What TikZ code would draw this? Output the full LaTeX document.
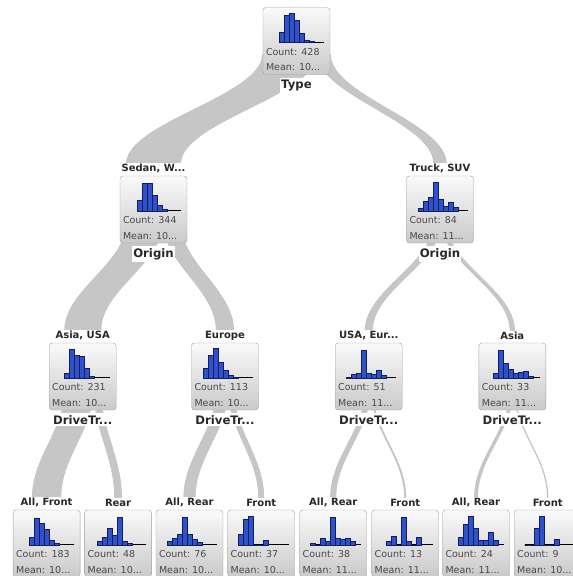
\documentclass[tikz,border=0pt]{standalone}
\usepackage{fontspec}
\setmainfont{DejaVu Sans}
\usetikzlibrary{calc,backgrounds}

\definecolor{barfill}{RGB}{48,82,200}
\definecolor{barline}{RGB}{18,28,95}
\definecolor{flowgray}{RGB}{198,198,198}
\definecolor{labtext}{RGB}{40,40,40}
\definecolor{stattext}{RGB}{72,72,72}

\tikzset{
  tbox/.style={rectangle, rounded corners=3pt, draw=gray!75, top color=gray!4,
    bottom color=gray!42, minimum width=67pt, minimum height=67pt, inner sep=0pt},
  toplab/.style={anchor=south, fill=white, inner sep=1pt, yshift=1.5pt,
    text=labtext, font=\fontsize{10}{10}\bfseries},
  botlab/.style={anchor=north, fill=white, inner xsep=1pt, inner ysep=2pt,
    yshift=-3pt, text=labtext, font=\fontsize{11.7}{12}\bfseries},
  stat/.style={anchor=base west, inner sep=0pt, text=stattext,
    font=\fontsize{9.5}{10}\selectfont},
  bar/.style={draw=barline, fill=barfill, line width=0.5pt},
  baseln/.style={draw=black, line width=0.7pt},
  flowband/.style={fill=flowgray},
}

% histogram in a box: node, offset of first bin, bar heights
\newcommand\histo[3]{%
  \draw[baseln] ($(#1.north west)+(#2,35)$) -- ($(#1.north east)+(-6,35)$);
  \foreach \h [count=\k from 0] in {#3}
    \draw[bar] ($(#1.north west)+(#2+5*\k,35)$) rectangle +(5,-\h);
}
% the two lines of numbers under the histogram
\newcommand\stats[3]{%
  \node[stat] (#1-cnt) at ($(#1.north west)+(3,48)$) {Count: #2};
  \node[stat] (#1-mean) at ($(#1.north west)+(3,63.5)$) {Mean: #3};
}
% grey band: parent, start offset under parent, width, child
\newcommand\flow[4]{%
  \path (#1.center) ++(#2,13) coordinate (fa) ++(#3,0) coordinate (fb);
  \path (#4.north) ++(-#3/2,-12) coordinate (ta) ++(#3,0) coordinate (tb);
  \path ($(fa)!.38!(ta)$) coordinate (f1) ($(fa)!.62!(ta)$) coordinate (f2);
  \fill[flowband] (fa) .. controls (fa |- f1) and (ta |- f2) .. (ta)
    -- (tb) .. controls (tb |- f2) and (fb |- f1) .. (fb) -- cycle;
}

\begin{document}
\begin{tikzpicture}[x=1pt,y=-1pt]
\useasboundingbox (0,0) rectangle (573,576);
\clip (0,0) rectangle (573,576);

% Root of the tree
\node[tbox] (type) at (296.5,41) {};
\node[botlab] (type-lab) at (type.south) {Type};
\histo{type}{16}{10,27,29,22,9,2,1}
\stats{type}{428}{10...}

% Second level, split on Type
\node[tbox] (sedan) at (153.5,209.5) {};
\node[toplab] (sedan-top) at (sedan.north) {Sedan, W...};
\node[botlab] (sedan-lab) at (sedan.south) {Origin};
\histo{sedan}{17}{10.7,28,28,16,5.7,1.3}
\stats{sedan}{344}{10...}

\node[tbox] (truck) at (440,209.5) {};
\node[toplab] (truck-top) at (truck.north) {Truck, SUV};
\node[botlab] (truck-lab) at (truck.south) {Origin};
\histo{truck}{12}{3,10,14,29,12,5,9,4}
\stats{truck}{84}{11...}

% Third level, split on Origin
\node[tbox] (asiausa) at (82.7,376.5) {};
\node[toplab] (asiausa-top) at (asiausa.north) {Asia, USA};
\node[botlab] (asiausa-lab) at (asiausa.south) {DriveTr...};
\histo{asiausa}{15}{4.3,28.7,22.7,22,9.3,2}
\stats{asiausa}{231}{10...}

\node[tbox] (europe) at (225,376.5) {};
\node[toplab] (europe-top) at (europe.north) {Europe};
\node[botlab] (europe-lab) at (europe.south) {DriveTr...};
\histo{europe}{12}{10,22.7,29.3,16,7.7,2.7,1}
\stats{europe}{113}{10...}

\node[tbox] (usaeur) at (368.7,376.5) {};
\node[toplab] (usaeur-top) at (usaeur.north) {USA, Eur...};
\node[botlab] (usaeur-lab) at (usaeur.south) {DriveTr...};
\histo{usaeur}{11}{1,4,5,28,5,4,8,3}
\stats{usaeur}{51}{11...}

\node[tbox] (asia) at (512.3,376.5) {};
\node[toplab] (asia-top) at (asia.north) {Asia};
\node[botlab] (asia-lab) at (asia.south) {DriveTr...};
\histo{asia}{15}{4.3,27.7,14.3,8.3,4.3,6,7,2}
\stats{asia}{33}{11...}

% Leaves, split on DriveTrain
\node[tbox] (af) at (46.6,543.5) {};
\node[toplab] (af-top) at (af.north) {All, Front};
\histo{af}{16}{7.7,26.7,22,16,4.3,2}
\stats{af}{183}{10...}

\node[tbox] (ar) at (118.1,543.5) {};
\node[toplab] (ar-top) at (ar.north) {Rear};
\histo{ar}{12.4}{3.3,7.7,16.7,10,27.7,3.3,2}
\stats{ar}{48}{10...}

\node[tbox] (er) at (189.5,543.5) {};
\node[toplab] (er-top) at (er.north) {All, Rear};
\histo{er}{11.3}{3.3,6.7,11,27.7,11,6,2.7}
\stats{er}{76}{10...}

\node[tbox] (ef) at (261.2,543.5) {};
\node[toplab] (ef-top) at (ef.north) {Front};
\histo{ef}{11}{11,26,28.3,0,0,5}
\stats{ef}{37}{10...}

\node[tbox] (ur) at (333.2,543.5) {};
\node[toplab] (ur-top) at (ur.north) {All, Rear};
\histo{ur}{10.7}{1.3,0,7,4,28,7,6,7,4}
\stats{ur}{38}{11...}

\node[tbox] (uf) at (405.2,543.5) {};
\node[toplab] (uf-top) at (uf.north) {Front};
\histo{uf}{15}{4,9,0,28,4,0,8}
\stats{uf}{13}{11...}

\node[tbox] (sr) at (476,543.5) {};
\node[toplab] (sr-top) at (sr.north) {All, Rear};
\histo{sr}{15.6}{7.7,21,28.3,16.7,5,5,12.7,5}
\stats{sr}{24}{11...}

\node[tbox] (sf) at (547.7,543.5) {};
\node[toplab] (sf-top) at (sf.north) {Front};
\histo{sf}{10.7}{0,0,16.7,28.3,0,0,5.3}
\stats{sf}{9}{10...}

% Grey bands, width follows the count
\begin{scope}[on background layer]
\flow{type}{-34.25}{55}{sedan}
\flow{type}{20.8}{13.4}{truck}
\flow{sedan}{-27.5}{37}{asiausa}
\flow{sedan}{9.5}{18.1}{europe}
\flow{truck}{-6.75}{8.2}{usaeur}
\flow{truck}{1.45}{5.3}{asia}
\flow{asiausa}{-18.5}{29.3}{af}
\flow{asiausa}{10.8}{7.7}{ar}
\flow{europe}{-9.05}{12.2}{er}
\flow{europe}{3.15}{5.9}{ef}
\flow{usaeur}{-4.1}{6.1}{ur}
\flow{usaeur}{2}{2.1}{uf}
\flow{asia}{-2.6}{3.8}{sr}
\flow{asia}{1.2}{1.4}{sf}
\end{scope}
\end{tikzpicture}
\end{document}
